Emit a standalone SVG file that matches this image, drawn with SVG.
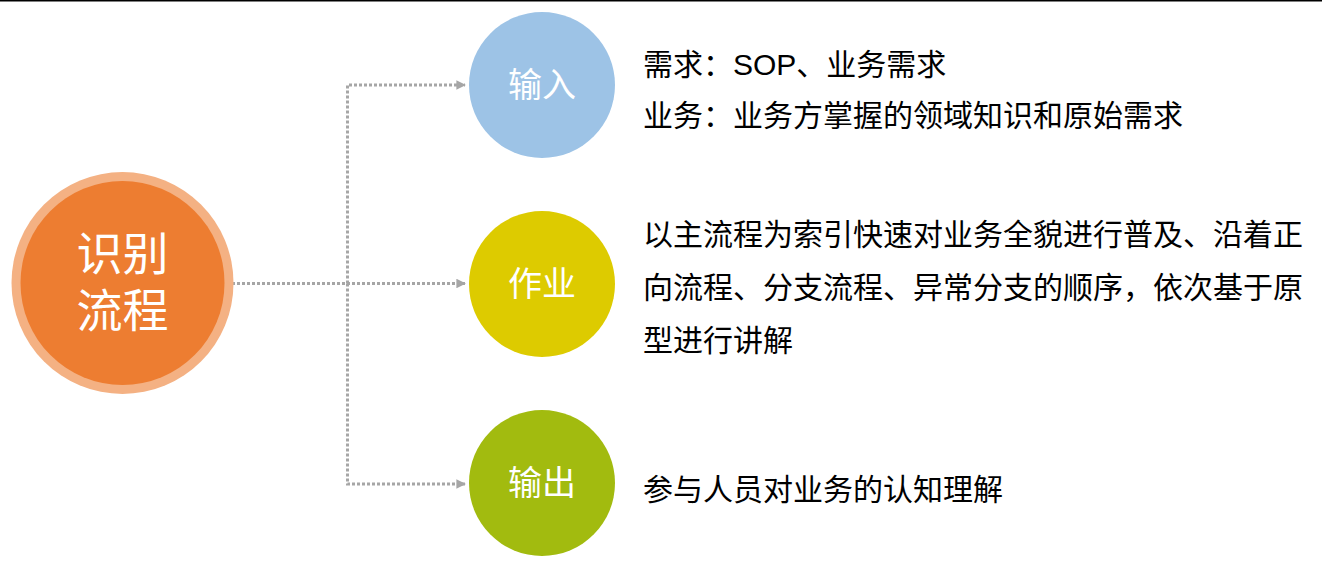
<svg xmlns="http://www.w3.org/2000/svg" width="1322" height="573" viewBox="0 0 1322 573">
<style>
.conn{fill:none;stroke:#A6A6A6;stroke-width:3;stroke-dasharray:3 2}
.lbl{font-family:"Liberation Sans","Noto Sans CJK SC",sans-serif;fill:#FFFFFF;text-anchor:middle}
.desc{font-family:"Liberation Sans","Noto Sans CJK SC",sans-serif;font-size:30px;fill:#000000}
</style>
<defs>
<marker id="arr" viewBox="0 0 10 10" refX="9" refY="5" markerWidth="3.2" markerHeight="3.2" orient="auto" markerUnits="strokeWidth">
<path d="M0,0 L10,5 L0,10 Z" fill="#A6A6A6"/>
</marker>
</defs>
<rect x="0" y="0" width="1322" height="573" fill="#FFFFFF"/>
<line x1="0" y1="0.75" x2="1322" y2="0.75" stroke="#000000" stroke-width="1.5"/>
<g id="connectors">
<line class="conn" x1="232" y1="283.5" x2="465" y2="283.5" marker-end="url(#arr)"/>
<polyline class="conn" points="347.5,283.5 347.5,85 465,85" marker-end="url(#arr)"/>
<polyline class="conn" points="347.5,283.5 347.5,484 465,484" marker-end="url(#arr)"/>
</g>
<g id="main">
<circle cx="122.5" cy="283" r="111" fill="#F4B183"/>
<circle cx="122.5" cy="283" r="102" fill="#ED7D31"/>
<text class="lbl" x="122.5" y="270" font-size="46">识别</text>
<text class="lbl" x="122.5" y="327" font-size="46">流程</text>
</g>
<g id="input">
<circle cx="542" cy="85" r="73" fill="#9DC3E6"/>
<text class="lbl" x="542" y="97" font-size="34">输入</text>
<text class="desc" x="643" y="75">需求：SOP、业务需求</text>
<text class="desc" x="643" y="126">业务：业务方掌握的领域知识和原始需求</text>
</g>
<g id="work">
<circle cx="542" cy="284" r="73" fill="#DDCB00"/>
<text class="lbl" x="542" y="296" font-size="34">作业</text>
<text class="desc" x="643" y="245">以主流程为索引快速对业务全貌进行普及、沿着正</text>
<text class="desc" x="643" y="298">向流程、分支流程、异常分支的顺序，依次基于原</text>
<text class="desc" x="643" y="351">型进行讲解</text>
</g>
<g id="output">
<circle cx="542" cy="483" r="73" fill="#A2BB0F"/>
<text class="lbl" x="542" y="495" font-size="34">输出</text>
<text class="desc" x="643" y="500">参与人员对业务的认知理解</text>
</g>
</svg>
